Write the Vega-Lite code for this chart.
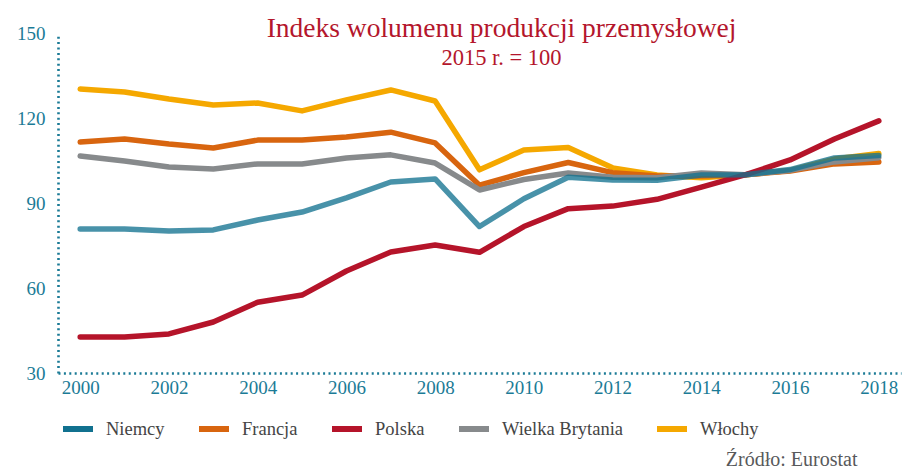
{
  "$schema": "https://vega.github.io/schema/vega-lite/v6.json",
  "width": 843,
  "height": 340,
  "autosize": {"type": "none"},
  "padding": {"left": 58, "top": 33, "right": 3, "bottom": 97},
  "background": "white",
  "config": {"view": {"stroke": null}, "font": "Liberation Serif"},
  "title": {
    "text": "Indeks wolumenu produkcji przemysłowej",
    "subtitle": "2015 r. = 100",
    "anchor": "middle",
    "dx": 22,
    "dy": 4,
    "offset": -41,
    "font": "Liberation Serif",
    "fontSize": 27.5,
    "fontWeight": "normal",
    "color": "#b4162c",
    "subtitleFont": "Liberation Serif",
    "subtitleFontSize": 22.5,
    "subtitleColor": "#b4162c",
    "subtitlePadding": 4
  },
  "data": {
    "values": [
      {"country": "Włochy", "year": 2000, "value": 130.2},
      {"country": "Włochy", "year": 2001, "value": 129.2},
      {"country": "Włochy", "year": 2002, "value": 126.7},
      {"country": "Włochy", "year": 2003, "value": 124.6},
      {"country": "Włochy", "year": 2004, "value": 125.3},
      {"country": "Włochy", "year": 2005, "value": 122.5},
      {"country": "Włochy", "year": 2006, "value": 126.4},
      {"country": "Włochy", "year": 2007, "value": 129.9},
      {"country": "Włochy", "year": 2008, "value": 126.0},
      {"country": "Włochy", "year": 2009, "value": 101.7},
      {"country": "Włochy", "year": 2010, "value": 108.7},
      {"country": "Włochy", "year": 2011, "value": 109.6},
      {"country": "Włochy", "year": 2012, "value": 102.4},
      {"country": "Włochy", "year": 2013, "value": 99.9},
      {"country": "Włochy", "year": 2014, "value": 98.9},
      {"country": "Włochy", "year": 2015, "value": 100},
      {"country": "Włochy", "year": 2016, "value": 101.5},
      {"country": "Włochy", "year": 2017, "value": 105.5},
      {"country": "Włochy", "year": 2018, "value": 107.5},
      {"country": "Francja", "year": 2000, "value": 111.5},
      {"country": "Francja", "year": 2001, "value": 112.6},
      {"country": "Francja", "year": 2002, "value": 110.8},
      {"country": "Francja", "year": 2003, "value": 109.4},
      {"country": "Francja", "year": 2004, "value": 112.2},
      {"country": "Francja", "year": 2005, "value": 112.2},
      {"country": "Francja", "year": 2006, "value": 113.3},
      {"country": "Francja", "year": 2007, "value": 115.0},
      {"country": "Francja", "year": 2008, "value": 111.2},
      {"country": "Francja", "year": 2009, "value": 96.3},
      {"country": "Francja", "year": 2010, "value": 100.7},
      {"country": "Francja", "year": 2011, "value": 104.3},
      {"country": "Francja", "year": 2012, "value": 100.7},
      {"country": "Francja", "year": 2013, "value": 99.5},
      {"country": "Francja", "year": 2014, "value": 99.5},
      {"country": "Francja", "year": 2015, "value": 100},
      {"country": "Francja", "year": 2016, "value": 101.3},
      {"country": "Francja", "year": 2017, "value": 103.8},
      {"country": "Francja", "year": 2018, "value": 104.5},
      {"country": "Wielka Brytania", "year": 2000, "value": 106.6},
      {"country": "Wielka Brytania", "year": 2001, "value": 104.8},
      {"country": "Wielka Brytania", "year": 2002, "value": 102.7},
      {"country": "Wielka Brytania", "year": 2003, "value": 102.0},
      {"country": "Wielka Brytania", "year": 2004, "value": 103.8},
      {"country": "Wielka Brytania", "year": 2005, "value": 103.8},
      {"country": "Wielka Brytania", "year": 2006, "value": 105.9},
      {"country": "Wielka Brytania", "year": 2007, "value": 107.0},
      {"country": "Wielka Brytania", "year": 2008, "value": 104.1},
      {"country": "Wielka Brytania", "year": 2009, "value": 94.6},
      {"country": "Wielka Brytania", "year": 2010, "value": 98.3},
      {"country": "Wielka Brytania", "year": 2011, "value": 100.6},
      {"country": "Wielka Brytania", "year": 2012, "value": 99.1},
      {"country": "Wielka Brytania", "year": 2013, "value": 98.9},
      {"country": "Wielka Brytania", "year": 2014, "value": 100.6},
      {"country": "Wielka Brytania", "year": 2015, "value": 100},
      {"country": "Wielka Brytania", "year": 2016, "value": 101.5},
      {"country": "Wielka Brytania", "year": 2017, "value": 104.5},
      {"country": "Wielka Brytania", "year": 2018, "value": 106.0},
      {"country": "Polska", "year": 2000, "value": 42.7},
      {"country": "Polska", "year": 2001, "value": 42.7},
      {"country": "Polska", "year": 2002, "value": 43.8},
      {"country": "Polska", "year": 2003, "value": 48.0},
      {"country": "Polska", "year": 2004, "value": 55.0},
      {"country": "Polska", "year": 2005, "value": 57.5},
      {"country": "Polska", "year": 2006, "value": 66.0},
      {"country": "Polska", "year": 2007, "value": 72.7},
      {"country": "Polska", "year": 2008, "value": 75.2},
      {"country": "Polska", "year": 2009, "value": 72.6},
      {"country": "Polska", "year": 2010, "value": 81.7},
      {"country": "Polska", "year": 2011, "value": 88.0},
      {"country": "Polska", "year": 2012, "value": 88.9},
      {"country": "Polska", "year": 2013, "value": 91.3},
      {"country": "Polska", "year": 2014, "value": 95.6},
      {"country": "Polska", "year": 2015, "value": 100},
      {"country": "Polska", "year": 2016, "value": 105.2},
      {"country": "Polska", "year": 2017, "value": 112.6},
      {"country": "Polska", "year": 2018, "value": 119.0},
      {"country": "Niemcy", "year": 2000, "value": 80.8},
      {"country": "Niemcy", "year": 2001, "value": 80.8},
      {"country": "Niemcy", "year": 2002, "value": 80.1},
      {"country": "Niemcy", "year": 2003, "value": 80.5},
      {"country": "Niemcy", "year": 2004, "value": 84.0},
      {"country": "Niemcy", "year": 2005, "value": 86.8},
      {"country": "Niemcy", "year": 2006, "value": 91.8},
      {"country": "Niemcy", "year": 2007, "value": 97.4},
      {"country": "Niemcy", "year": 2008, "value": 98.5},
      {"country": "Niemcy", "year": 2009, "value": 81.7},
      {"country": "Niemcy", "year": 2010, "value": 91.5},
      {"country": "Niemcy", "year": 2011, "value": 99.1},
      {"country": "Niemcy", "year": 2012, "value": 98.1},
      {"country": "Niemcy", "year": 2013, "value": 98.0},
      {"country": "Niemcy", "year": 2014, "value": 99.9},
      {"country": "Niemcy", "year": 2015, "value": 100},
      {"country": "Niemcy", "year": 2016, "value": 101.8},
      {"country": "Niemcy", "year": 2017, "value": 105.9},
      {"country": "Niemcy", "year": 2018, "value": 106.8}
    ]
  },
  "encoding": {
    "x": {
      "field": "year",
      "type": "quantitative",
      "scale": {"domain": [1999.5, 2018.5], "nice": false, "zero": false},
      "axis": {
        "values": [2000, 2002, 2004, 2006, 2008, 2010, 2012, 2014, 2016, 2018],
        "format": "d",
        "ticks": false,
        "grid": false,
        "domainColor": "#1b7b96",
        "domainDash": [2, 3.4],
        "domainWidth": 2.6,
        "labelFont": "Liberation Serif",
        "labelFontSize": 19,
        "labelColor": "#1b7b96",
        "labelPadding": 5,
        "labelFlush": false,
        "title": "Źródło: Eurostat",
        "titleFont": "Liberation Serif",
        "titleFontSize": 20,
        "titleFontWeight": "normal",
        "titleColor": "#58595b",
        "titleX": 799,
        "titleY": 92,
        "titleAlign": "right",
        "titleBaseline": "alphabetic"
      }
    },
    "y": {
      "field": "value",
      "type": "quantitative",
      "scale": {"domain": [30, 150], "nice": false, "zero": false},
      "axis": {
        "values": [30, 60, 90, 120, 150],
        "ticks": false,
        "grid": false,
        "domainColor": "#1b7b96",
        "domainDash": [2, 3.4],
        "domainWidth": 2.6,
        "labelFont": "Liberation Serif",
        "labelFontSize": 19,
        "labelColor": "#1b7b96",
        "labelPadding": 13,
        "title": null
      }
    },
    "color": {
      "field": "country",
      "type": "nominal",
      "scale": {
        "domain": ["Niemcy", "Francja", "Polska", "Wielka Brytania", "Włochy"],
        "range": ["#11718f", "#d8650f", "#b5142a", "#878a8c", "#f5a800"]
      },
      "legend": {
        "title": null,
        "orient": "none",
        "legendX": 2,
        "legendY": 378,
        "direction": "horizontal",
        "symbolType": "stroke",
        "symbolSize": 900,
        "symbolStrokeWidth": 6,
        "symbolOpacity": 1,
        "labelFont": "Liberation Serif",
        "labelFontSize": 18.5,
        "labelColor": "#444444",
        "labelOffset": 10,
        "columnPadding": 22,
        "padding": 0
      }
    }
  },
  "layer": [
    {
      "transform": [{"filter": "datum.country != 'Niemcy'"}],
      "mark": {"type": "line", "strokeWidth": 5.5, "strokeCap": "round", "strokeJoin": "round"}
    },
    {
      "transform": [{"filter": "datum.country == 'Niemcy'"}],
      "mark": {"type": "line", "strokeWidth": 5.5, "strokeCap": "round", "strokeJoin": "round", "opacity": 0.77}
    }
  ]
}
